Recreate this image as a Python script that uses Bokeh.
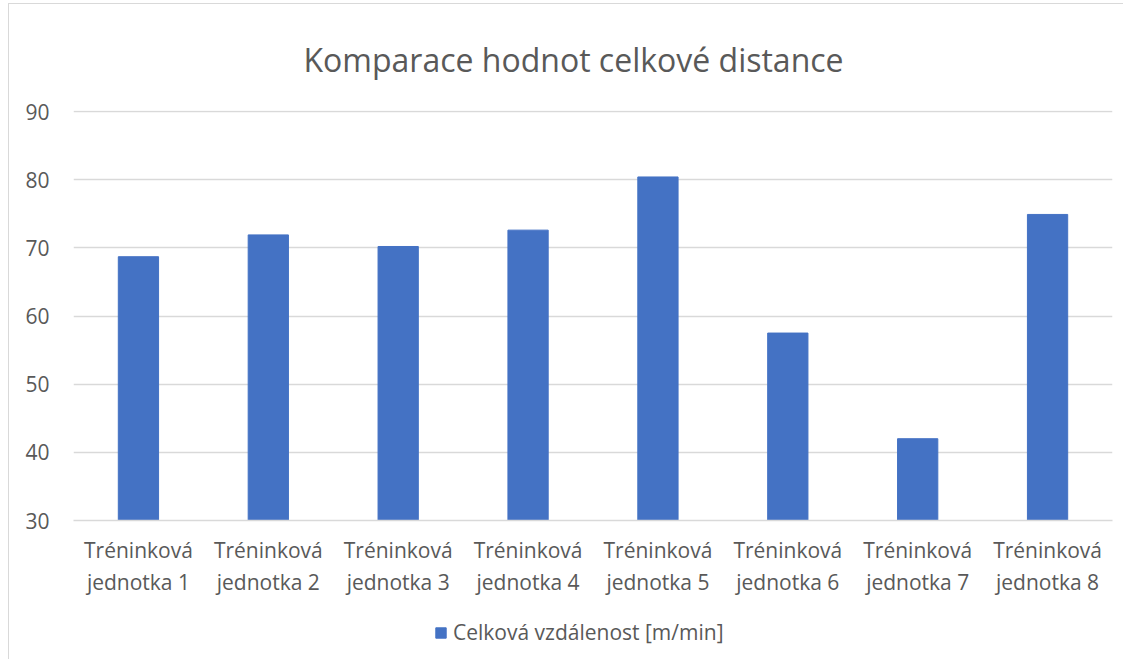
from bokeh.plotting import figure
from bokeh.models import FactorRange, Range1d, Legend, LegendItem
from bokeh.layouts import column
from bokeh.embed import file_html
from bokeh.resources import INLINE

categories = ["Tréninková\njednotka 1", "Tréninková\njednotka 2", "Tréninková\njednotka 3",
              "Tréninková\njednotka 4", "Tréninková\njednotka 5", "Tréninková\njednotka 6",
              "Tréninková\njednotka 7", "Tréninková\njednotka 8"]
values = [68.7, 71.9, 70.2, 72.6, 80.4, 57.5, 42.0, 74.9]
y_ticks = [30, 40, 50, 60, 70, 80, 90]
series_name = "Celková vzdálenost [m/min]"
title_text = "Komparace hodnot celkové distance"

FONT = "Open Sans"
TXT = "#595959"
GRID = "#d9d9d9"
BAR = "#4472C4"

p = figure(width=1115, height=616, x_range=FactorRange(*categories, range_padding=0),
           y_range=Range1d(30, 90.15), output_backend="svg", toolbar_location=None,
           min_border_left=64, min_border_right=12, min_border_top=106, min_border_bottom=100)
p.margin = (3, 0, 0, 8)
p.styles = {"border-left": "1px solid #d9d9d9", "border-top": "1px solid #d9d9d9"}

r = p.vbar(x=categories, top=values, bottom=30, width=0.31, color=BAR)

p.title.text = title_text
p.title.text_font = FONT
p.title.text_font_size = "32px"
p.title.text_font_style = "normal"
p.title.text_color = TXT
p.title.align = "left"
p.title.offset = 230
p.title.standoff = 59

p.outline_line_color = None
p.xgrid.grid_line_color = None
p.ygrid.grid_line_color = GRID
p.ygrid.grid_line_width = 1.3
p.yaxis.ticker = y_ticks
p.yaxis.axis_line_color = None
p.yaxis.major_tick_line_color = None
p.yaxis.minor_tick_line_color = None
p.yaxis.major_tick_out = 0
p.yaxis.major_label_standoff = 24
p.xaxis.axis_line_color = GRID
p.xaxis.axis_line_width = 1.3
p.xaxis.major_tick_line_color = None
p.xaxis.minor_tick_line_color = None
p.xaxis.major_tick_out = 0
p.xaxis.major_label_standoff = 15
p.xaxis.major_label_text_line_height = 1.15
for ax in (p.xaxis, p.yaxis):
    ax.major_label_text_font = FONT
    ax.major_label_text_font_size = "21px"
    ax.major_label_text_color = TXT

# legend strip below the chart (proxy glyph lies outside the visible range)
pl = figure(width=1115, height=40, x_range=Range1d(0, 1), y_range=Range1d(0, 1),
            output_backend="svg", toolbar_location=None, x_axis_location=None,
            y_axis_location=None, min_border=0)
pl.margin = (0, 0, 0, 8)
pl.styles = {"border-left": "1px solid #d9d9d9"}
pl.outline_line_color = None
pl.grid.visible = False
rl = pl.vbar(x=[-5], top=[-5], bottom=[-6], width=0.31, color=BAR)
legend = Legend(items=[LegendItem(label=series_name, renderers=[rl])], location=(361, 13),
                orientation="horizontal", glyph_width=13, glyph_height=13, label_standoff=6,
                padding=0, margin=0, border_line_color=None, background_fill_alpha=0,
                label_text_font=FONT, label_text_font_size="21px", label_text_color=TXT)
pl.add_layout(legend, "center")

layout = column(p, pl, spacing=0)
open("out.html", "w").write(file_html(layout, INLINE))
